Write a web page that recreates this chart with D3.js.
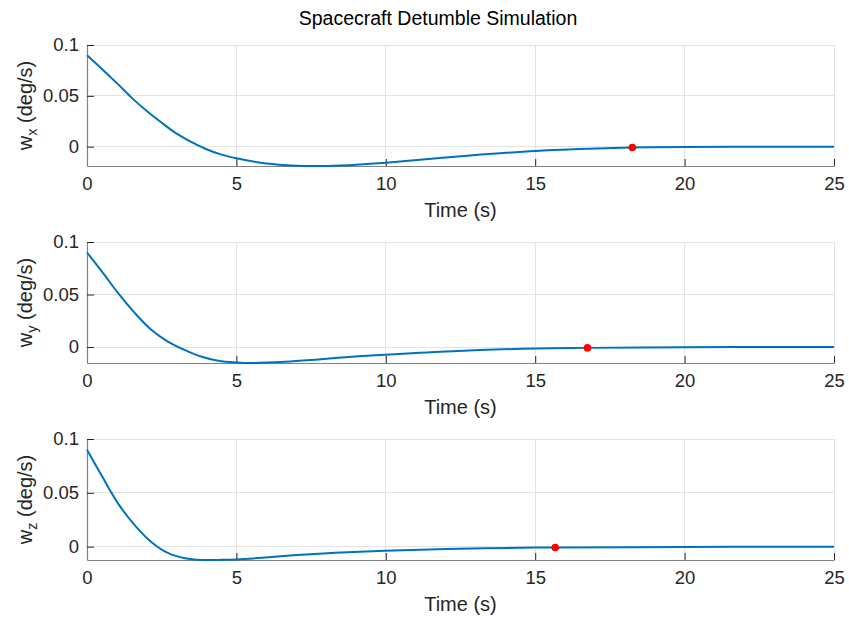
<!DOCTYPE html>
<html>
<head>
<meta charset="utf-8">
<script src="https://cdn.jsdelivr.net/npm/d3@7"></script>
<style>
  html, body { margin: 0; padding: 0; background: #fff; }
  svg { display: block; font-family: "Liberation Sans", Arial, Helvetica, sans-serif; }
</style>
</head>
<body>
<svg id="chart" width="849" height="620"></svg>
<script>
// Angular rate about each body axis during detumble (deg/s vs seconds)
const timeX = [0, 0.5, 1.0, 1.5, 2.0, 2.5, 3.0, 3.5, 4.0, 4.5, 5.0, 6.0, 7.0, 7.7, 8.5, 9.0, 10.0, 12.0, 15.0, 16.5, 18.25, 20.0, 22.5, 25.0];
const wx    = [0.090, 0.0765, 0.0625, 0.048, 0.035, 0.0235, 0.0128, 0.0045, -0.0025, -0.0078, -0.0114, -0.0166, -0.0187, -0.019, -0.0184, -0.0177, -0.0157, -0.0106, -0.0042, -0.0023, -0.0008, -0.0002, 0, 0];

const timeY = [0, 0.49, 1.05, 1.61, 2.16, 2.72, 3.28, 3.84, 4.39, 5.0, 5.5, 6.63, 7.74, 8.86, 9.97, 12.04, 15, 16.75, 20, 22.5, 25];
const wy    = [0.090, 0.0722, 0.051, 0.032, 0.0162, 0.005, -0.0029, -0.0092, -0.013, -0.0147, -0.0152, -0.014, -0.0118, -0.0093, -0.0073, -0.0042, -0.0013, -0.0008, -0.0002, 0, 0];

const timeZ = [0, 0.49, 1.05, 1.61, 2.16, 2.72, 3.28, 3.84, 4.39, 5.0, 6.07, 7.18, 8.3, 9.97, 12.04, 15, 15.67, 20, 22.5, 25];
const wz    = [0.090, 0.066, 0.0397, 0.0195, 0.0041, -0.0061, -0.0108, -0.0124, -0.0123, -0.0119, -0.0099, -0.0075, -0.0056, -0.0037, -0.0021, -0.0009, -0.0008, -0.0003, 0, 0];

// Settling instants (marked in red)
const settleTime  = [18.25, 16.75, 15.67];
const settleValue = [-0.0008, -0.0008, -0.0008];

const axisNames   = ["x", "y", "z"];
const xTickValues = [0, 5, 10, 15, 20, 25];
const yTickValues = [0, 0.05, 0.1];
const titleText   = "Spacecraft Detumble Simulation";
const xLabelText  = "Time (s)";

const series = [
  { t: timeX, w: wx },
  { t: timeY, w: wy },
  { t: timeZ, w: wz }
];

const svg = d3.select("#chart");
const left = 87, right = 834, top0 = 45, panelH = 121, step = 197;
const textColor = "#262626";
const tickFont = 18.5, labelFont = 20;

svg.append("text")
  .attr("x", 438).attr("y", 25)
  .attr("text-anchor", "middle")
  .attr("font-size", 19.5)
  .attr("fill", "#000")
  .text(titleText);

series.forEach((s, i) => {
  const top = top0 + i * step, bottom = top + panelH;
  const x = d3.scaleLinear().domain([0, 25]).range([left, right]);
  const y = d3.scaleLinear().domain([d3.min(s.w), 0.1]).range([bottom, top]);
  const g = svg.append("g");

  // grid
  g.selectAll(".vg").data(xTickValues.filter(v => v > 0)).join("line")
    .attr("x1", d => x(d)).attr("x2", d => x(d))
    .attr("y1", top).attr("y2", bottom)
    .attr("stroke", "#e3e3e3").attr("stroke-width", 1).attr("shape-rendering", "crispEdges");
  g.selectAll(".hg").data(yTickValues).join("line")
    .attr("x1", left).attr("x2", right)
    .attr("y1", d => y(d)).attr("y2", d => y(d))
    .attr("stroke", "#e3e3e3").attr("stroke-width", 1).attr("shape-rendering", "crispEdges");

  // x axis (ticks pointing inward)
  const xAxis = d3.axisBottom(x).tickValues(xTickValues).tickFormat(d3.format("d"))
    .tickSizeInner(-7).tickSizeOuter(0).tickPadding(11);
  const gx = g.append("g").attr("transform", `translate(0,${bottom})`).call(xAxis);
  gx.select(".domain").attr("stroke", "#808080").attr("stroke-width", 1.2);
  gx.selectAll(".tick line").attr("stroke", "#262626");
  gx.selectAll(".tick text").attr("fill", textColor).attr("font-size", tickFont)
    .attr("font-family", "Liberation Sans, Arial, sans-serif");

  // y axis
  const yAxis = d3.axisLeft(y).tickValues(yTickValues).tickFormat(d => d === 0 ? "0" : String(d))
    .tickSizeInner(-7).tickSizeOuter(0).tickPadding(8);
  const gy = g.append("g").attr("transform", `translate(${left},0)`).call(yAxis);
  gy.select(".domain").attr("stroke", "#808080").attr("stroke-width", 1.2);
  gy.selectAll(".tick line").attr("stroke", "#262626");
  gy.selectAll(".tick text").attr("fill", textColor).attr("font-size", tickFont)
    .attr("font-family", "Liberation Sans, Arial, sans-serif");

  // x label
  g.append("text")
    .attr("x", (left + right) / 2).attr("y", bottom + 51)
    .attr("text-anchor", "middle").attr("font-size", labelFont).attr("fill", textColor)
    .text(xLabelText);

  // y label with subscript
  const yl = g.append("text")
    .attr("transform", `translate(32,${(top + bottom) / 2}) rotate(-90)`)
    .attr("text-anchor", "middle").attr("font-size", labelFont).attr("fill", textColor);
  yl.append("tspan").text("w");
  yl.append("tspan").attr("font-size", 14.5).attr("dy", 5).text(axisNames[i]);
  yl.append("tspan").attr("dy", -5).text(" (deg/s)");

  // response curve
  const pts = s.t.map((t, k) => [t, s.w[k]]);
  const line = d3.line().x(d => x(d[0])).y(d => y(d[1])).curve(d3.curveCatmullRom.alpha(0.5));
  g.append("path").datum(pts)
    .attr("d", line).attr("fill", "none")
    .attr("stroke", "#0072BD").attr("stroke-width", 2);

  // settling marker
  g.append("circle")
    .attr("cx", x(settleTime[i])).attr("cy", y(settleValue[i]))
    .attr("r", 3.8).attr("fill", "#ff0000");
});
</script>
</body>
</html>
